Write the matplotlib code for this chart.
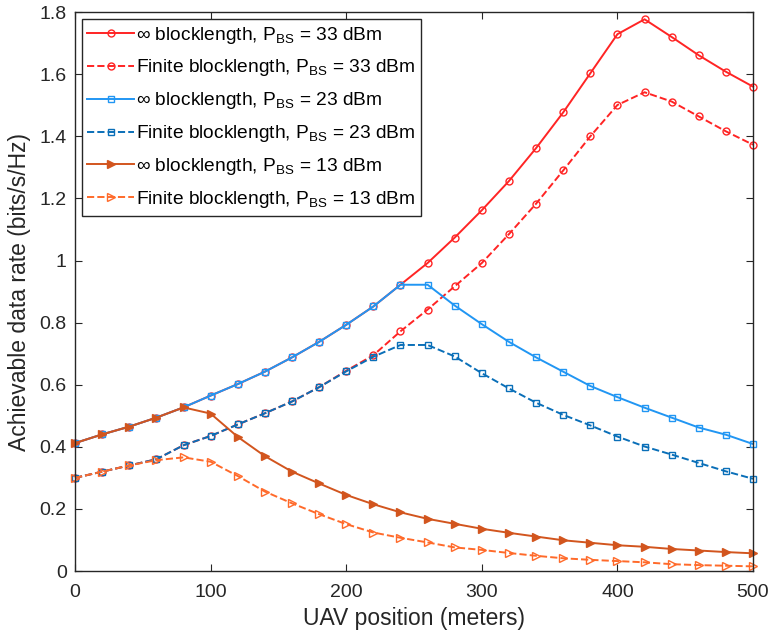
import matplotlib
matplotlib.use("Agg")
import matplotlib.pyplot as plt
from matplotlib.ticker import FuncFormatter

plt.rcParams['font.family'] = ['Liberation Sans', 'DejaVu Sans']
plt.rcParams['mathtext.fontset'] = 'custom'
plt.rcParams['mathtext.rm'] = 'Liberation Sans'

x = list(range(0, 501, 20))

inf_33 = [0.412, 0.44, 0.465, 0.494, 0.527, 0.565, 0.602, 0.642, 0.688, 0.738, 0.793, 0.852,
          0.922, 0.992, 1.074, 1.162, 1.256, 1.362, 1.477, 1.603, 1.729, 1.777, 1.72, 1.661,
          1.608, 1.56]
fin_33 = [0.30, 0.32, 0.34, 0.36, 0.405, 0.435, 0.472, 0.508, 0.546, 0.592, 0.645, 0.695,
          0.772, 0.842, 0.917, 0.992, 1.085, 1.183, 1.29, 1.40, 1.501, 1.542, 1.512, 1.464,
          1.416, 1.373]
inf_23 = [0.412, 0.44, 0.465, 0.494, 0.527, 0.565, 0.602, 0.642, 0.688, 0.738, 0.793, 0.852,
          0.922, 0.922, 0.855, 0.795, 0.738, 0.688, 0.642, 0.596, 0.560, 0.526, 0.494, 0.462,
          0.439, 0.409]
fin_23 = [0.30, 0.32, 0.34, 0.36, 0.405, 0.435, 0.472, 0.508, 0.546, 0.592, 0.643, 0.69,
          0.728, 0.728, 0.691, 0.637, 0.588, 0.542, 0.503, 0.469, 0.433, 0.401, 0.375, 0.348,
          0.321, 0.297]
inf_13 = [0.412, 0.44, 0.465, 0.494, 0.527, 0.507, 0.432, 0.37, 0.32, 0.282, 0.245, 0.215,
          0.189, 0.168, 0.152, 0.136, 0.123, 0.111, 0.099, 0.091, 0.083, 0.078, 0.071, 0.066,
          0.061, 0.057]
fin_13 = [0.30, 0.32, 0.34, 0.357, 0.366, 0.352, 0.306, 0.256, 0.218, 0.183, 0.151, 0.124,
          0.107, 0.092, 0.076, 0.068, 0.058, 0.049, 0.041, 0.036, 0.032, 0.028, 0.022, 0.019,
          0.017, 0.015]

labels = [r'$\infty$ blocklength, P$_{\rm BS}$ = 33 dBm',
          r'Finite blocklength, P$_{\rm BS}$ = 33 dBm',
          r'$\infty$ blocklength, P$_{\rm BS}$ = 23 dBm',
          r'Finite blocklength, P$_{\rm BS}$ = 23 dBm',
          r'$\infty$ blocklength, P$_{\rm BS}$ = 13 dBm',
          r'Finite blocklength, P$_{\rm BS}$ = 13 dBm']

fig = plt.figure(figsize=(7.71, 6.39), dpi=100)
ax = fig.add_axes([0.0973, 0.1064, 0.8794, 0.8746])

styles = [
    dict(color='#FF2424', ls='-', marker='o', mfc='none', ms=5),
    dict(color='#FF2424', ls='--', marker='o', mfc='none', ms=5),
    dict(color='#2196F3', ls='-', marker='s', mfc='none', ms=5),
    dict(color='#0A6FB8', ls='--', marker='s', mfc='none', ms=5),
    dict(color='#D2551E', ls='-', marker='>', mfc='#D2551E', ms=6),
    dict(color='#FF6A2A', ls='--', marker='>', mfc='none', ms=6),
]
series = [inf_33, fin_33, inf_23, fin_23, inf_13, fin_13]
for ys, st, lab in zip(series, styles, labels):
    ax.plot(x, ys, lw=1.4, mew=1.0, label=lab, clip_on=False, **st)

ax.set_xlim(0, 500)
ax.set_ylim(0, 1.8)
ax.set_xticks([0, 100, 200, 300, 400, 500])
ax.set_yticks([0, 0.2, 0.4, 0.6, 0.8, 1.0, 1.2, 1.4, 1.6, 1.8])
ax.yaxis.set_major_formatter(FuncFormatter(lambda v, p: '%g' % round(v, 2)))
ax.tick_params(direction='in', top=True, right=True, length=5, width=0.8,
               labelsize=14, colors='#262626')
ax.tick_params(axis='x', pad=9)
ax.tick_params(axis='y', pad=6)
for s in ax.spines.values():
    s.set_linewidth(1.0)
    s.set_color('#262626')
ax.set_xlabel('UAV position (meters)', fontsize=16.5, color='#262626', labelpad=5)
ax.set_ylabel('Achievable data rate (bits/s/Hz)', fontsize=16.5, color='#262626', labelpad=6)

leg = ax.legend(loc='upper left', fontsize=13.8, frameon=True, fancybox=False,
                edgecolor='#262626', framealpha=1, borderaxespad=0.35,
                handlelength=2.45, handletextpad=0.1, labelspacing=0.62,
                borderpad=0.3)
leg.get_frame().set_linewidth(1.0)

fig.savefig('out.png', dpi=100)
